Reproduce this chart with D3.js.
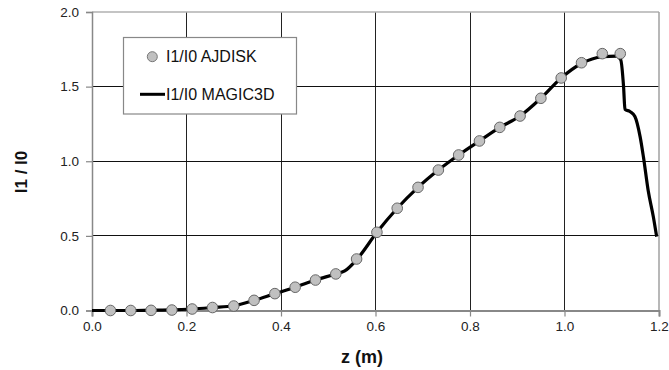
<!DOCTYPE html>
<html>
<head>
<meta charset="utf-8">
<script src="https://cdn.jsdelivr.net/npm/d3@7"></script>
<style>
  html, body { margin: 0; padding: 0; background: #fff; }
  svg { display: block; }
  text { font-family: "Liberation Sans", Arial, sans-serif; }
</style>
</head>
<body>
<svg id="chart" width="669" height="370"></svg>
<script>
// ---- data ----
const xTicks = [0.0, 0.2, 0.4, 0.6, 0.8, 1.0, 1.2];
const yTicks = [0.0, 0.5, 1.0, 1.5, 2.0];

const ajdiskZ = [0.039, 0.082, 0.125, 0.169, 0.212, 0.255, 0.300, 0.343, 0.387, 0.430, 0.473, 0.516,
                 0.560, 0.603, 0.646, 0.690, 0.733, 0.776, 0.820, 0.863, 0.906, 0.950, 0.993, 1.036, 1.080, 1.118];
const ajdiskV = [0.000, 0.000, 0.001, 0.003, 0.010, 0.020, 0.030, 0.068, 0.113, 0.156, 0.204, 0.245,
                 0.345, 0.524, 0.685, 0.825, 0.941, 1.042, 1.136, 1.227, 1.303, 1.422, 1.558, 1.660, 1.721, 1.721];

const magicZ = [0.000, 0.040, 0.080, 0.125, 0.169, 0.212, 0.255, 0.300, 0.343, 0.387, 0.430, 0.473, 0.516, 0.535,
                0.560, 0.603, 0.646, 0.690, 0.733, 0.776, 0.820, 0.863, 0.906, 0.950, 0.993, 1.036, 1.080, 1.110,
                1.119, 1.125, 1.128, 1.139, 1.149, 1.160, 1.167, 1.177, 1.188, 1.195];
const magicV = [0.000, 0.000, 0.000, 0.002, 0.004, 0.010, 0.020, 0.032, 0.068, 0.113, 0.156, 0.204, 0.245, 0.265,
                0.340, 0.524, 0.685, 0.825, 0.941, 1.042, 1.136, 1.227, 1.303, 1.422, 1.558, 1.655, 1.700, 1.705,
                1.680, 1.500, 1.348, 1.332, 1.300, 1.165, 1.030, 0.806, 0.628, 0.495];

const seriesNames = ["I1/I0 AJDISK", "I1/I0 MAGIC3D"];
const xTitle = "z (m)";
const yTitle = "I1 / I0";

// ---- layout ----
const svg = d3.select("#chart");
const pL = 92, pR = 659, pT = 12, pB = 310.5;
const x = d3.scaleLinear().domain([0, 1.2]).range([pL, pR]);
const y = d3.scaleLinear().domain([0, 2.0]).range([pB, pT]);

// grid
svg.append("g").selectAll("line").data(xTicks.filter(d => d > 0 && d < 1.2)).join("line")
  .attr("x1", d => x(d)).attr("x2", d => x(d)).attr("y1", pT).attr("y2", pB)
  .attr("stroke", "#222").attr("stroke-width", 1).attr("shape-rendering", "crispEdges");
svg.append("g").selectAll("line").data(yTicks.filter(d => d > 0 && d < 2)).join("line")
  .attr("x1", pL).attr("x2", pR).attr("y1", d => y(d)).attr("y2", d => y(d))
  .attr("stroke", "#111").attr("stroke-width", 1).attr("shape-rendering", "crispEdges");

// frame
svg.append("line").attr("x1", pL).attr("x2", pR).attr("y1", pT).attr("y2", pT)
  .attr("stroke", "#b0b0b0").attr("stroke-width", 1.5);
svg.append("line").attr("x1", pR).attr("x2", pR).attr("y1", pT).attr("y2", pB)
  .attr("stroke", "#a0a0a0").attr("stroke-width", 1.5);

// axes
const yAxis = d3.axisLeft(y).tickValues(yTicks).tickFormat(d3.format(".1f")).tickSize(6).tickPadding(7);
const gy = svg.append("g").attr("transform", `translate(${pL},0)`).call(yAxis);
const xAxis = d3.axisBottom(x).tickValues(xTicks).tickFormat(d3.format(".1f")).tickSize(6).tickPadding(5);
const gx = svg.append("g").attr("transform", `translate(0,${pB})`).call(xAxis);
[gx, gy].forEach(g => {
  g.select(".domain").attr("stroke", "#888").attr("stroke-width", 2);
  g.selectAll(".tick line").attr("stroke", "#888").attr("stroke-width", 1.2);
  g.selectAll(".tick text").attr("fill", "#222").style("font-size", "13.5px")
    .style("font-family", "'Liberation Sans', Arial, sans-serif");
});
gy.select(".domain").attr("stroke-width", 1.5);

// legend
const lg = svg.append("g");
lg.append("rect").attr("x", 123.5).attr("y", 37.5).attr("width", 173).attr("height", 76.5)
  .attr("fill", "#fff").attr("stroke", "#888").attr("stroke-width", 1.2);
lg.append("circle").attr("cx", 152.3).attr("cy", 56.7).attr("r", 5)
  .attr("fill", "#c0c0c0").attr("stroke", "#777").attr("stroke-width", 1);
lg.append("text").attr("x", 166).attr("y", 62).text(seriesNames[0])
  .style("font-size", "16px").attr("fill", "#111");
lg.append("line").attr("x1", 140).attr("x2", 165).attr("y1", 94.3).attr("y2", 94.3)
  .attr("stroke", "#000").attr("stroke-width", 3);
lg.append("text").attr("x", 166).attr("y", 100).text(seriesNames[1])
  .style("font-size", "16px").attr("fill", "#111");

// line series
const magic = magicZ.map((z, i) => [z, magicV[i]]);
svg.append("path").datum(magic)
  .attr("d", d3.line().x(d => x(d[0])).y(d => y(d[1])).curve(d3.curveMonotoneX))
  .attr("fill", "none").attr("stroke", "#000").attr("stroke-width", 3.2)
  .attr("stroke-linejoin", "round");

// points
const aj = ajdiskZ.map((z, i) => [z, ajdiskV[i]]);
svg.append("g").selectAll("circle").data(aj).join("circle")
  .attr("cx", d => x(d[0])).attr("cy", d => y(d[1])).attr("r", 5.3)
  .attr("fill", "#c0c0c0").attr("stroke", "#666").attr("stroke-width", 1);

// titles
svg.append("text").attr("x", 362).attr("y", 363).attr("text-anchor", "middle")
  .style("font-size", "18px").style("font-weight", "bold").attr("fill", "#111").text(xTitle);
svg.append("text").attr("transform", "translate(27,172) rotate(-90)").attr("text-anchor", "middle")
  .style("font-size", "17px").style("font-weight", "bold").attr("fill", "#111").text(yTitle);
</script>
</body>
</html>
